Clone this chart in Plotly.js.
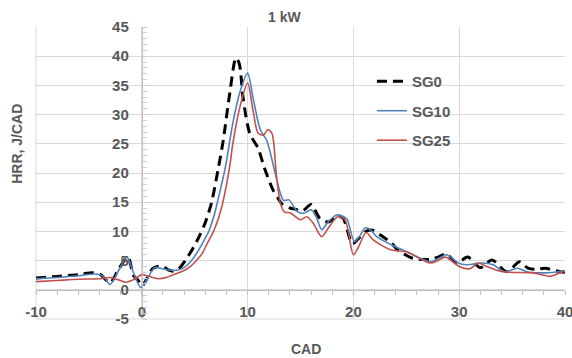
<!DOCTYPE html>
<html>
<head>
<meta charset="utf-8">
<script src="https://cdn.plot.ly/plotly-3.0.1.min.js"></script>
<style>
  html, body { margin: 0; padding: 0; background: #fff; }
  #chart { width: 572px; height: 358px; }
</style>
</head>
<body>
<div id="chart"></div>
<script>
// Heat release rate vs crank angle at 1 kW load
const seriesNames = ['SG0', 'SG10', 'SG25'];

const cadSG0 = [-10, -8, -6, -4.6, -3.9, -3.0, -2.2, -1.3, -0.8, -0.3, 0, 0.5, 1.0, 1.5, 2.0, 2.5, 3.0, 3.5, 4.1, 4.8, 5.5, 6.0, 6.6, 7.2, 7.7, 8.3, 8.9, 9.2, 9.6, 10.2, 11.0, 11.6, 12.4, 12.9, 13.3, 14.0, 14.5, 15.2, 16.0, 16.8, 17.6, 18.4, 19.0, 19.9, 20.5, 21.2, 21.8, 22.7, 23.6, 24.2, 25.6, 27.2, 28.0, 28.8, 29.8, 30.8, 32.0, 33.1, 34.5, 35.7, 36.5, 37.3, 38.1, 39.5, 40];
const hrrSG0 = [2.0, 2.3, 2.6, 2.9, 2.6, 1.2, 3.5, 5.6, 2.5, 1.5, 0.6, 2.0, 3.6, 4.0, 4.0, 3.4, 3.2, 3.6, 5.0, 7.0, 9.4, 11.5, 15.0, 20.5, 25.6, 33.5, 39.7, 38.8, 32.5, 26.8, 24.2, 20.8, 17.1, 15.6, 14.6, 14.0, 13.8, 13.5, 14.6, 12.3, 11.6, 12.5, 12.3, 7.9, 8.8, 10.0, 10.2, 9.2, 8.0, 6.8, 5.4, 5.2, 5.6, 6.1, 4.6, 5.6, 3.8, 5.1, 3.1, 4.8, 3.7, 3.5, 3.7, 3.1, 3.0];

const cadSG10 = [-10, -8, -6, -4.3, -3.6, -3.0, -2.2, -1.4, -0.8, -0.1, 0.5, 1.2, 2.0, 3.0, 3.8, 4.5, 5.2, 5.8, 6.3, 6.8, 7.2, 7.9, 8.6, 9.3, 10.0, 10.5, 11.2, 11.8, 12.6, 13.1, 13.4, 13.9, 14.7, 15.3, 16.0, 16.5, 17.0, 17.6, 18.4, 19.0, 19.4, 20.1, 20.6, 21.1, 21.6, 22.2, 23.6, 25.3, 27.2, 28.0, 28.8, 29.9, 30.7, 32.2, 33.2, 34.3, 35.5, 36.4, 37.9, 39.0, 40];
const hrrSG10 = [1.9, 2.1, 2.4, 2.7, 2.3, 0.9, 3.3, 5.6, 3.0, 0.4, 1.8, 3.8, 3.6, 3.3, 3.6, 4.6, 6.3, 8.2, 9.9, 12.5, 15.4, 21.0, 28.5, 34.0, 37.1, 33.0, 27.4, 25.6, 20.0, 16.5, 15.3, 15.4, 13.4, 13.1, 13.7, 12.4, 10.3, 11.6, 12.8, 12.6, 12.1, 8.2, 9.2, 10.6, 10.3, 9.1, 7.7, 6.3, 4.8, 5.3, 6.0, 4.6, 4.3, 4.6, 4.3, 3.1, 3.7, 3.1, 2.9, 3.0, 3.3];

const cadSG25 = [-10, -8, -6, -4, -3.0, -2.2, -1.5, -0.7, 0.0, 0.7, 1.5, 2.3, 3.0, 4.0, 4.6, 5.2, 5.7, 6.2, 6.7, 7.2, 7.6, 8.3, 8.6, 9.3, 10.0, 10.5, 11.0, 11.5, 11.9, 12.3, 12.7, 13.1, 13.5, 14.0, 15.0, 15.6, 16.2, 17.0, 17.6, 18.5, 19.2, 20.0, 20.5, 21.2, 21.9, 23.6, 25.0, 27.2, 28.0, 28.7, 30.0, 31.0, 31.8, 32.6, 34.1, 37.0, 38.6, 39.8, 40];
const hrrSG25 = [1.4, 1.6, 1.8, 1.9, 2.1, 1.7, 1.3, 1.8, 2.6, 2.3, 1.9, 2.1, 2.6, 3.3, 4.0, 5.1, 6.2, 8.0, 9.7, 12.0, 14.5, 21.0, 25.0, 31.5, 35.4, 30.8, 26.8, 26.5, 27.4, 26.8, 20.0, 14.8, 13.3, 13.2, 12.0, 12.5, 11.4, 9.1, 10.5, 12.5, 12.0, 6.0, 7.4, 9.8, 8.5, 6.8, 6.5, 4.6, 5.0, 5.6, 4.0, 3.6, 4.6, 4.0, 3.1, 2.9, 2.3, 3.1, 3.1];

const xTicks = [-10, 0, 10, 20, 30, 40];
const yTicks = [-5, 0, 5, 10, 15, 20, 25, 30, 35, 40, 45];

const textGrey = '#595959';
const gridGrey = '#d9d9d9';
const font = { family: 'Liberation Sans, Arial, sans-serif', size: 15, color: textGrey, weight: 'bold' };

const traces = [
  { x: cadSG0, y: hrrSG0, name: seriesNames[0], legendgroup: 'g0', mode: 'lines',
    line: { color: '#000000', width: 3, dash: '10px,6px', shape: 'spline', smoothing: 0.8 } },
  { x: cadSG10, y: hrrSG10, name: seriesNames[1], legendgroup: 'g1', mode: 'lines',
    line: { color: '#4F81BD', width: 1.6, shape: 'spline', smoothing: 0.8 } },
  { x: cadSG25, y: hrrSG25, name: seriesNames[2], legendgroup: 'g2', mode: 'lines',
    line: { color: '#C0504D', width: 1.6, shape: 'spline', smoothing: 0.8 } }
];

const layout = {
  width: 572, height: 358,
  margin: { l: 36, r: 7, t: 27, b: 39 },
  paper_bgcolor: '#ffffff', plot_bgcolor: '#ffffff',
  font: font,
  showlegend: true,
  legend: { x: 0.635, y: 0.87, xanchor: 'left', yanchor: 'top', bgcolor: 'rgba(0,0,0,0)',
            font: { family: font.family, size: 15, color: textGrey, weight: 'bold' },
            tracegroupgap: 7, itemwidth: 30 },
  xaxis: {
    range: [-10, 40], tickvals: xTicks, ticktext: xTicks.map(String),
    anchor: 'free', position: 0.1,
    showline: true, linecolor: '#bfbfbf', linewidth: 1,
    showgrid: true, gridcolor: gridGrey, gridwidth: 1,
    zeroline: false, ticks: '', ticklabelstandoff: 8, ticklabeloverflow: 'allow',
    minor: { dtick: 2, ticks: 'outside', ticklen: 4, tickcolor: '#bfbfbf', showgrid: false },
    tickfont: font
  },
  yaxis: {
    range: [-5, 45], tickvals: yTicks, ticktext: yTicks.map(String),
    anchor: 'free', position: 0.2,
    showline: true, linecolor: '#bfbfbf', linewidth: 1,
    showgrid: true, gridcolor: gridGrey, gridwidth: 1,
    zeroline: false, ticks: '', ticklabelstandoff: 10, ticklabeloverflow: 'allow',
    minor: { dtick: 1, ticks: 'inside', ticklen: 4, tickcolor: '#d0d0d0', showgrid: false },
    tickfont: font
  },
  // plot-area edges (left and bottom) drawn as light grid lines
  shapes: [
    { type: 'line', xref: 'paper', yref: 'paper', x0: 0, x1: 0, y0: 0, y1: 1, layer: 'below',
      line: { color: gridGrey, width: 1 } },
    { type: 'line', xref: 'paper', yref: 'paper', x0: 0, x1: 1, y0: 0, y1: 0, layer: 'below',
      line: { color: gridGrey, width: 1 } }
  ],
  annotations: [
    { text: '1 kW', xref: 'paper', yref: 'paper', x: 0.47, y: 1.0, xanchor: 'center', yanchor: 'bottom',
      showarrow: false, yshift: 0, font: { family: font.family, size: 14, color: textGrey, weight: 'bold' } },
    { text: 'CAD', xref: 'paper', yref: 'paper', x: 0.51, y: 0, xanchor: 'center', yanchor: 'top',
      showarrow: false, yshift: -20, font: { family: font.family, size: 14, color: textGrey, weight: 'bold' } },
    { text: 'HRR, J/CAD', xref: 'paper', yref: 'paper', x: 0, y: 0.6, xanchor: 'center', yanchor: 'middle',
      textangle: -90, showarrow: false, xshift: -19, font: { family: font.family, size: 14, color: textGrey, weight: 'bold' } }
  ]
};

Plotly.newPlot('chart', traces, layout, { staticPlot: true, displayModeBar: false });
</script>
</body>
</html>
